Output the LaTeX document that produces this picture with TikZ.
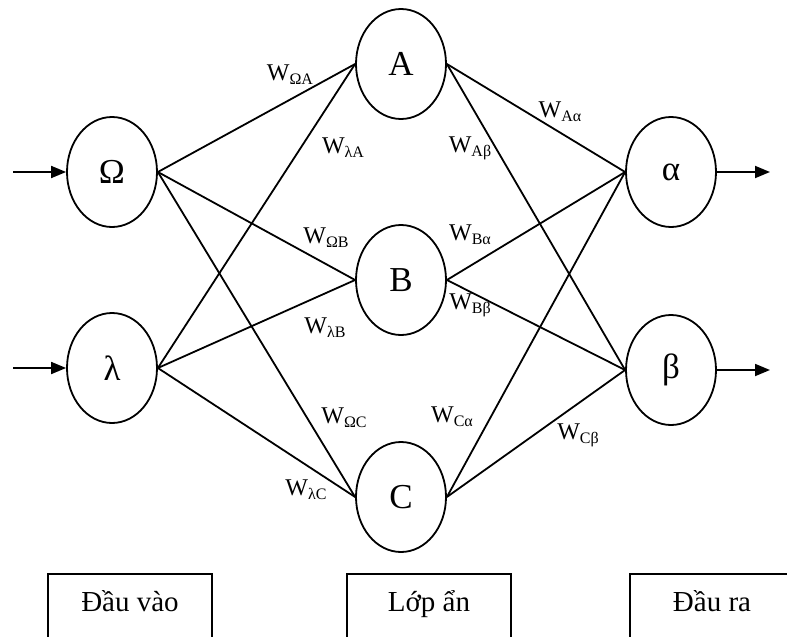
\documentclass[tikz,border=0pt]{standalone}
\usepackage{fontspec}
\setmainfont{Liberation Serif}
\usetikzlibrary{arrows.meta, positioning, shapes.geometric}
\newcommand{\wsub}[1]{W\raisebox{-4pt}{\fontsize{16}{16}\selectfont #1}}

\begin{document}
\begin{tikzpicture}[
    x=1pt, y=-1pt,
    neuron/.style={ellipse, draw, line width=1.8pt, minimum width=90pt, minimum height=110pt, inner sep=0pt, font=\fontsize{35}{35}\selectfont},
    weight/.style={inner sep=0pt, font=\fontsize{24}{24}\selectfont},
    caption/.style={rectangle, draw, line width=1.8pt, minimum width=164pt, text height=20pt, text depth=70pt, inner ysep=18pt, anchor=north, font=\fontsize{29}{29}\selectfont},
    link/.style={line width=1.8pt},
    arrow/.style={-{Triangle[length=15pt, width=12pt]}, line width=1.8pt}
]
\clip (0,0) rectangle (787,637);

\node[neuron] (omega) at (112,172) {Ω};
\node[neuron] (lambda) at (112,368) {λ};
\node[neuron] (hidA) at (401,64) {A};
\node[neuron] (hidB) at (401,280) {B};
\node[neuron] (hidC) at (401,497) {C};
\node[neuron] (alpha) at (671,172) {α};
\node[neuron] (beta) at (671,370) {β};

\coordinate (inOmega) at (13,172);
\coordinate (inLambda) at (13,368);
\coordinate (outAlpha) at (770,172);
\coordinate (outBeta) at (770,370);

\draw[arrow] (inOmega) -- (omega);
\draw[arrow] (inLambda) -- (lambda);
\draw[arrow] (alpha) -- (outAlpha);
\draw[arrow] (beta) -- (outBeta);

\foreach \src in {omega,lambda}
  \foreach \dst in {hidA,hidB,hidC}
    \draw[link] (\src.east) -- (\dst.west);
\foreach \src in {hidA,hidB,hidC}
  \foreach \dst in {alpha,beta}
    \draw[link] (\src.east) -- (\dst.west);

\node[weight] (wOA) at (290,75) {\wsub{ΩA}};
\node[weight] (wLA) at (343,148) {\wsub{λA}};
\node[weight] (wOB) at (326,238) {\wsub{ΩB}};
\node[weight] (wLB) at (325,328) {\wsub{λB}};
\node[weight] (wOC) at (344,418) {\wsub{ΩC}};
\node[weight] (wLC) at (306,490) {\wsub{λC}};
\node[weight] (wAa) at (560,112) {\wsub{Aα}};
\node[weight] (wAb) at (470,148) {\wsub{Aβ}};
\node[weight] (wBa) at (470,235) {\wsub{Bα}};
\node[weight] (wBb) at (470,305) {\wsub{Bβ}};
\node[weight] (wCa) at (452,417) {\wsub{Cα}};
\node[weight] (wCb) at (578,435) {\wsub{Cβ}};

\node[caption] (inputBox) at (130,573) {Đầu vào};
\node[caption] (hiddenBox) at (429,573) {Lớp ẩn};
\node[caption] (outputBox) at (712,573) {Đầu ra};

\end{tikzpicture}
\end{document}
